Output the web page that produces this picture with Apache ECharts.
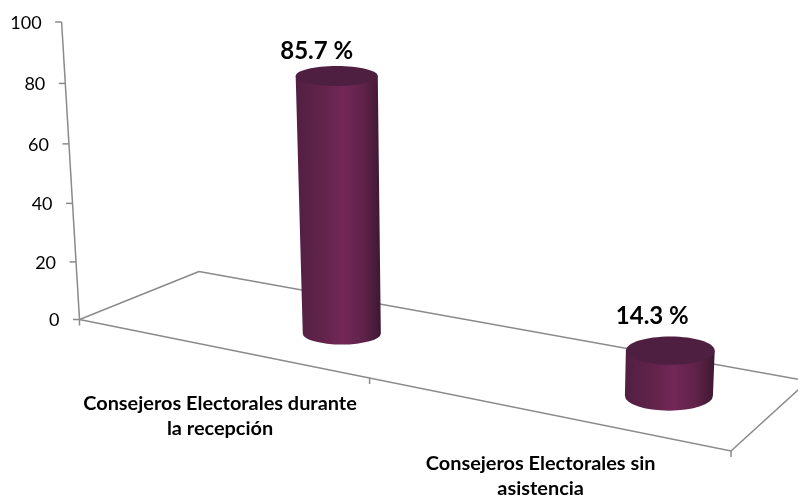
<!DOCTYPE html>
<html>
<head>
<meta charset="utf-8">
<style>html,body{margin:0;padding:0;background:#fff}#c{width:798px;height:498px}</style>
<script src="https://cdn.jsdelivr.net/npm/echarts@6/dist/echarts.min.js"></script>
</head>
<body>
<div id="c"></div>
<script>
const categories = ['Consejeros Electorales durante\nla recepción', 'Consejeros Electorales sin\nasistencia'];
const values = [85.7, 14.3];
const valueLabels = ['85.7 %', '14.3 %'];
const yTicks = [0, 20, 40, 60, 80, 100];

// Floor plane of the 3D projection (corner pixels of the perspective floor)
const P0 = [79.5, 319.5], P1 = [731, 451], P2 = [808, 381], P3 = [199, 271.5];
const LINE = '#8a8a8a', FONT = 'Lato';
const BAR_SHIFT = [0.1075, 0.11], BAR_DEPTH = 0.5;
const TICK_U = [0, 0.492, 1];

function makeFloor() {
  const dx1 = P1[0]-P2[0], dx2 = P3[0]-P2[0], sx = P0[0]-P1[0]+P2[0]-P3[0];
  const dy1 = P1[1]-P2[1], dy2 = P3[1]-P2[1], sy = P0[1]-P1[1]+P2[1]-P3[1];
  const det = dx1*dy2-dx2*dy1;
  const g = (sx*dy2-dx2*sy)/det, h = (dx1*sy-sx*dy1)/det;
  const a = P1[0]-P0[0]+g*P1[0], b = P3[0]-P0[0]+h*P3[0];
  const d = P1[1]-P0[1]+g*P1[1], e = P3[1]-P0[1]+h*P3[1];
  return (u, v) => {
    const w = g*u+h*v+1;
    return [(a*u+b*v+P0[0])/w, (d*u+e*v+P0[1])/w];
  };
}
const floor = makeFloor();
// lean of verticals towards a vanishing point above the chart
const lean = x => (x-470)*0.000154;
// slight perspective stretch of the height scale
const bow = v => { const t=v/100; return 12*t*(1-t); };
const lineEl = (x1,y1,x2,y2) => ({type:'line',shape:{x1,y1,x2,y2},style:{stroke:LINE,lineWidth:1.5,fill:null}});

function renderFrame(params, api) {
  const children = [];
  const base = api.coord([0,0])[1];
  const bowed = v => api.coord([0,v])[1] + bow(v);
  const wallX = y => P0[0]+(base-y)*lean(P0[0]);
  children.push({type:'polyline',shape:{points:[P3,P0,P1,P2,P3]},style:{stroke:LINE,lineWidth:1.5,fill:null}});
  children.push(lineEl(wallX(bowed(0)),bowed(0),wallX(bowed(100)),bowed(100)));
  yTicks.forEach(t => {
    const y = bowed(t), x = wallX(y);
    children.push(lineEl(x-6.5,y,x,y));
    children.push({type:'text',style:{text:String(t),x:x-20,y:y+1,align:'right',verticalAlign:'middle',
      font:'18px '+FONT,fill:'#000'}});
  });
  TICK_U.forEach(u => {
    const p = floor(u,0);
    children.push(lineEl(p[0],p[1],p[0],p[1]+6));
  });
  categories.forEach((c,i) => {
    const p = floor((i+0.5)/categories.length,0);
    children.push({type:'text',style:{text:c,x:p[0]-0.5-i*3,y:p[1]+68-i*5,align:'center',verticalAlign:'middle',
      font:'bold 19.9px '+FONT,lineHeight:25,fill:'#000'}});
  });
  return {type:'group',children};
}

function renderBar(params, api) {
  const i = api.value(0), val = api.value(1);
  const f = floor((i+0.5)/categories.length+BAR_SHIFT[i], BAR_DEPTH);
  const b = [f[0], f[1]+1];
  const h = api.coord([i,0])[1]-api.coord([i,val])[1]+bow(val)+1;
  const rxB = 39+(b[1]-333)*0.08, ryB = 11+(b[1]-333)*0.065;
  const rxT = rxB*(1+h*0.0002), ryT = ryB-1;
  const tx = b[0]+h*lean(b[0]), ty = b[1]-h;
  const grad = new echarts.graphic.LinearGradient(0,0,1,0,[
    {offset:0,color:'#521f43'},{offset:0.3,color:'#612349'},{offset:0.55,color:'#722858'},
    {offset:0.8,color:'#5f2249'},{offset:1,color:'#3d1832'}]);
  const body = `M${tx-rxT} ${ty}L${b[0]-rxB} ${b[1]}A${rxB} ${ryB} 0 0 0 ${b[0]+rxB} ${b[1]}L${tx+rxT} ${ty}Z`;
  return {type:'group',children:[
    {type:'path',shape:{pathData:body},style:{fill:grad}},
    {type:'ellipse',shape:{cx:tx,cy:ty,rx:rxT,ry:ryT},style:{fill:'#4f1f41'}},
    {type:'text',style:{text:valueLabels[i],x:tx-20+i*2,y:ty-25-(i*9),align:'center',verticalAlign:'middle',
      font:'bold 24px '+FONT,fill:'#000'}}
  ]};
}

const chart = echarts.init(document.getElementById('c'),null,{renderer:'canvas'});
chart.setOption({
  animation:false,
  backgroundColor:'#fff',
  grid:{left:80,top:22,width:651,height:297.5},
  xAxis:{type:'category',data:categories,show:false},
  yAxis:{type:'value',min:0,max:100,interval:20,show:false},
  series:[
    {type:'custom',coordinateSystem:'cartesian2d',data:[[0,0]],renderItem:renderFrame,silent:true,z:1},
    {type:'custom',coordinateSystem:'cartesian2d',data:values.map((v,i)=>[i,v]),renderItem:renderBar,silent:true,z:2}
  ]
});
</script>
</body>
</html>
